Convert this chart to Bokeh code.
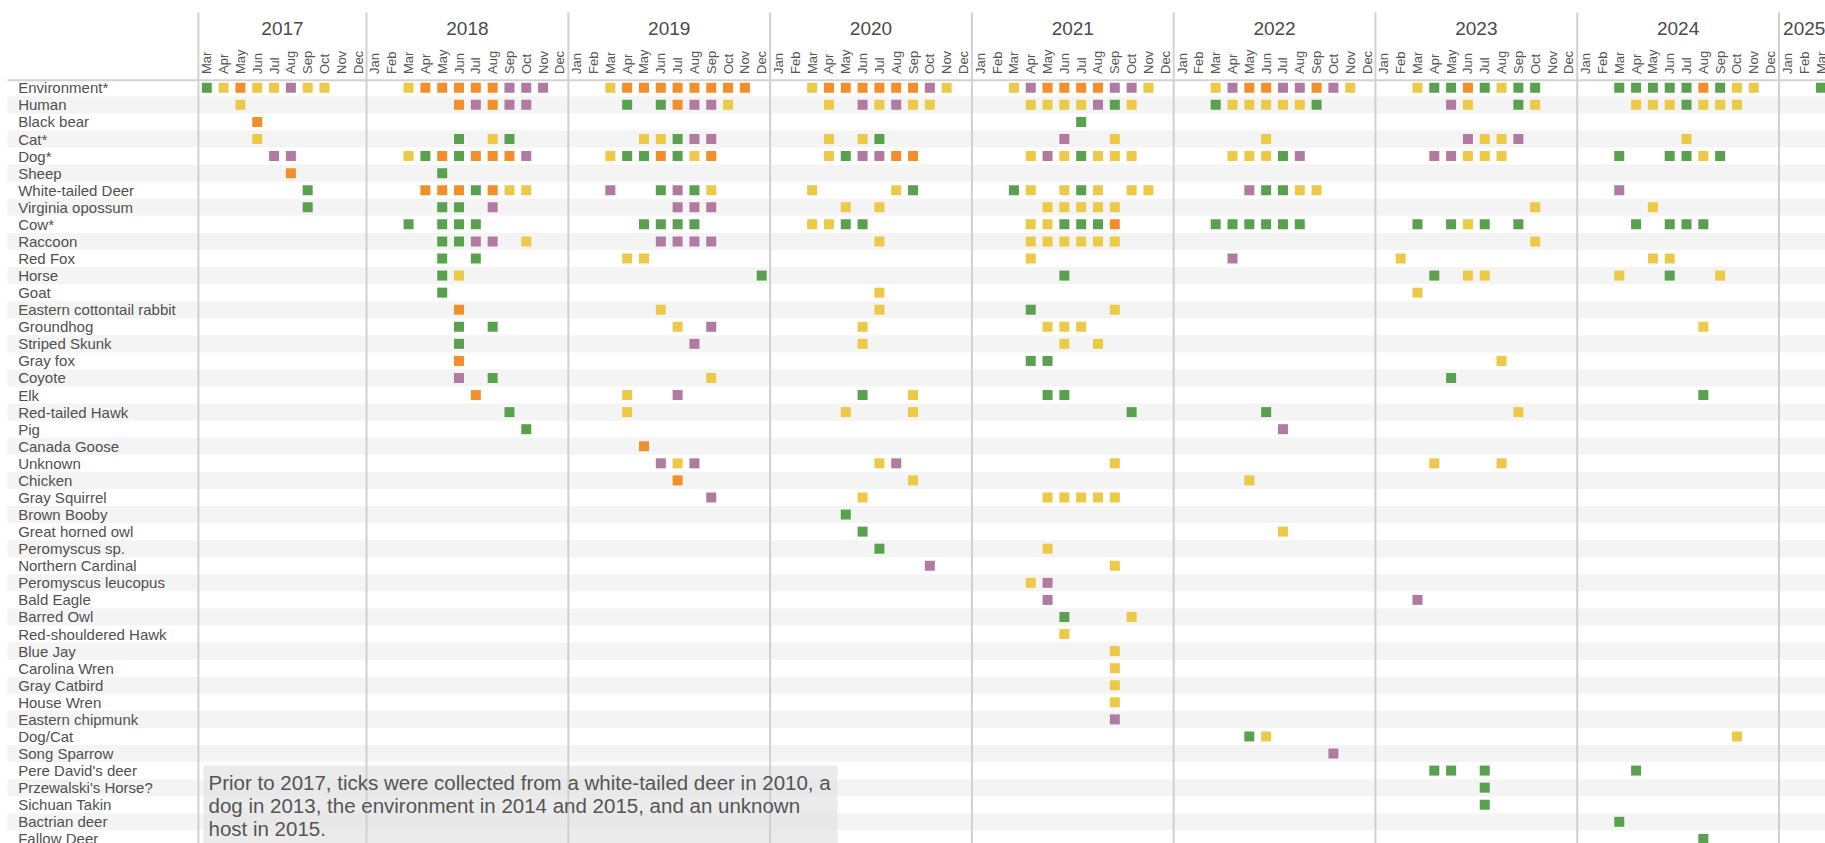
import math
from bokeh.plotting import figure
from bokeh.models import Range1d
from bokeh.embed import file_html
from bokeh.resources import INLINE
from bokeh.core.properties import value

# ---------------- data ----------------
hosts = [
    "Environment*", "Human", "Black bear", "Cat*", "Dog*", "Sheep",
    "White-tailed Deer", "Virginia opossum", "Cow*", "Raccoon", "Red Fox",
    "Horse", "Goat", "Eastern cottontail rabbit", "Groundhog", "Striped Skunk",
    "Gray fox", "Coyote", "Elk", "Red-tailed Hawk", "Pig", "Canada Goose",
    "Unknown", "Chicken", "Gray Squirrel", "Brown Booby", "Great horned owl",
    "Peromyscus sp.", "Northern Cardinal", "Peromyscus leucopus", "Bald Eagle",
    "Barred Owl", "Red-shouldered Hawk", "Blue Jay", "Carolina Wren",
    "Gray Catbird", "House Wren", "Eastern chipmunk", "Dog/Cat", "Song Sparrow",
    "Pere David's deer", "Przewalski's Horse?", "Sichuan Takin",
    "Bactrian deer", "Fallow Deer",
]

years = [2017, 2018, 2019, 2020, 2021, 2022, 2023, 2024, 2025]
month_names = ["Jan", "Feb", "Mar", "Apr", "May", "Jun",
               "Jul", "Aug", "Sep", "Oct", "Nov", "Dec"]
first_year, first_month = 2017, 3
last_year, last_month = 2025, 3

# observation codes: YYMM + colour class (G, Y, O, P)
obs_environment = ("1703G 1704Y 1705O 1706Y 1707Y 1708P 1709Y 1710Y "
                   "1803Y 1804O 1805O 1806O 1807O 1808O 1809P 1810P 1811P "
                   "1903Y 1904O 1905O 1906O 1907O 1908O 1909O 1910O 1911O "
                   "2003Y 2004O 2005O 2006O 2007O 2008O 2009O 2010P 2011Y "
                   "2103Y 2104P 2105O 2106O 2107O 2108O 2109P 2110P 2111Y "
                   "2203Y 2204P 2205O 2206O 2207P 2208P 2209O 2210P 2211Y "
                   "2303Y 2304G 2305G 2306O 2307G 2308Y 2309G 2310G "
                   "2403G 2404G 2405G 2406G 2407G 2408O 2409G 2410Y 2411Y 2503G")
obs_human = ("1705Y 1806O 1807P 1808O 1809P 1810P "
             "1904G 1906G 1907O 1908P 1909P 1910Y "
             "2004Y 2006P 2007Y 2008P 2009Y 2010Y "
             "2104Y 2105Y 2106Y 2107Y 2108P 2109G 2110Y "
             "2203G 2204Y 2205Y 2206Y 2207Y 2208Y 2209G "
             "2305P 2306Y 2309G 2310Y "
             "2404Y 2405Y 2406Y 2407G 2408Y 2409Y 2410Y")
obs_black_bear = "1706O 2107G"
obs_cat = ("1706Y 1806G 1808Y 1809G 1905Y 1906Y 1907G 1908P 1909P "
           "2004Y 2006Y 2007G 2106P 2109Y 2206Y 2306P 2307Y 2308Y 2309P 2407Y")
obs_dog = ("1707P 1708P 1803Y 1804G 1805O 1806G 1807O 1808O 1809O 1810P "
           "1903Y 1904G 1905G 1906O 1907G 1908Y 1909O "
           "2004Y 2005G 2006P 2007P 2008O 2009O "
           "2104Y 2105P 2106Y 2107G 2108Y 2109Y 2110Y "
           "2204Y 2205Y 2206Y 2207G 2208P "
           "2304P 2305P 2306Y 2307Y 2308Y "
           "2403G 2406G 2407G 2408Y 2409G")
obs_sheep = "1708O 1805G"
obs_white_tailed_deer = ("1709G 1804O 1805O 1806O 1807G 1808O 1809Y 1810Y "
                         "1903P 1906G 1907P 1908G 1909Y 2003Y 2008Y 2009G "
                         "2103G 2104Y 2106Y 2107G 2108Y 2110Y 2111Y "
                         "2205P 2206G 2207G 2208Y 2209Y 2403P")
obs_virginia_opossum = ("1709G 1805G 1806G 1808P 1907P 1908P 1909P 2005Y 2007Y "
                        "2105Y 2106Y 2107Y 2108Y 2109Y 2310Y 2405Y")
obs_cow = ("1803G 1805G 1806G 1807G 1905G 1906G 1907G 1908G "
           "2003Y 2004Y 2005G 2006G 2104Y 2105Y 2106G 2107G 2108G 2109O "
           "2203G 2204G 2205G 2206G 2207G 2208G 2303G 2305G 2306Y 2307G 2309G "
           "2404G 2406G 2407G 2408G")
obs_raccoon = ("1805G 1806G 1807P 1808P 1810Y 1906P 1907P 1908P 1909P 2007Y "
               "2104Y 2105Y 2106Y 2107Y 2108Y 2109Y 2310Y")
obs_red_fox = "1805G 1807G 1904Y 1905Y 2104Y 2204P 2302Y 2405Y 2406Y"
obs_horse = "1805G 1806Y 1912G 2106G 2304G 2306Y 2307Y 2403Y 2406G 2409Y"
obs_goat = "1805G 2007Y 2303Y"
obs_cottontail = "1806O 1906Y 2007Y 2104G 2109Y"
obs_groundhog = "1806G 1808G 1907Y 1909P 2006Y 2105Y 2106Y 2107Y 2408Y"
obs_striped_skunk = "1806G 1908P 2006Y 2106Y 2108Y"
obs_gray_fox = "1806O 2104G 2105G 2308Y"
obs_coyote = "1806P 1808G 1909Y 2305G"
obs_elk = "1807O 1904Y 1907P 2006G 2009Y 2105G 2106G 2408G"
obs_red_tailed_hawk = "1809G 1904Y 2005Y 2009Y 2110G 2206G 2309Y"
obs_pig = "1810G 2207P"
obs_canada_goose = "1905O"
obs_unknown = "1906P 1907Y 1908P 2007Y 2008P 2109Y 2304Y 2308Y"
obs_chicken = "1907O 2009Y 2205Y"
obs_gray_squirrel = "1909P 2006Y 2105Y 2106Y 2107Y 2108Y 2109Y"
obs_brown_booby = "2005G"
obs_great_horned_owl = "2006G 2207Y"
obs_peromyscus_sp = "2007G 2105Y"
obs_northern_cardinal = "2010P 2109Y"
obs_peromyscus_leucopus = "2104Y 2105P"
obs_bald_eagle = "2105P 2303P"
obs_barred_owl = "2106G 2110Y"
obs_red_shouldered_hawk = "2106Y"
obs_blue_jay = "2109Y"
obs_carolina_wren = "2109Y"
obs_gray_catbird = "2109Y"
obs_house_wren = "2109Y"
obs_eastern_chipmunk = "2109P"
obs_dog_cat = "2205G 2206Y 2410Y"
obs_song_sparrow = "2210P"
obs_pere_davids_deer = "2304G 2305G 2307G 2404G"
obs_przewalski = "2307G"
obs_sichuan_takin = "2307G"
obs_bactrian_deer = "2403G"
obs_fallow_deer = "2408G"

host_obs = [
    obs_environment, obs_human, obs_black_bear, obs_cat, obs_dog, obs_sheep,
    obs_white_tailed_deer, obs_virginia_opossum, obs_cow, obs_raccoon,
    obs_red_fox, obs_horse, obs_goat, obs_cottontail, obs_groundhog,
    obs_striped_skunk, obs_gray_fox, obs_coyote, obs_elk, obs_red_tailed_hawk,
    obs_pig, obs_canada_goose, obs_unknown, obs_chicken, obs_gray_squirrel,
    obs_brown_booby, obs_great_horned_owl, obs_peromyscus_sp,
    obs_northern_cardinal, obs_peromyscus_leucopus, obs_bald_eagle,
    obs_barred_owl, obs_red_shouldered_hawk, obs_blue_jay, obs_carolina_wren,
    obs_gray_catbird, obs_house_wren, obs_eastern_chipmunk, obs_dog_cat,
    obs_song_sparrow, obs_pere_davids_deer, obs_przewalski, obs_sichuan_takin,
    obs_bactrian_deer, obs_fallow_deer,
]

class_colors = {"G": "#59a14f", "Y": "#edc948", "O": "#f28e2b", "P": "#b07aa1"}

note_lines = [
    "Prior to 2017, ticks were collected from a white-tailed deer in 2010, a",
    "dog in 2013, the environment in 2014 and 2015, and an unknown",
    "host in 2015.",
]

# ---------------- layout ----------------
W, H = 1825, 843
PX_MONTH = 16.815          # pixels per month
PX_ROW = 17.07             # pixels per host row
X0 = 206.3                 # canvas px of first month centre
Y0 = 87.3                  # canvas px of first row centre


def px2x(px):
    return (px - X0) / PX_MONTH


def py2y(py):
    return (py - Y0) / PX_ROW


def month_index(y, m):
    return (y - first_year) * 12 + (m - first_month)


n_months = month_index(last_year, last_month) + 1
n_rows = len(hosts)

p = figure(width=W, height=H, output_backend="svg", toolbar_location=None,
           x_range=Range1d(px2x(0), px2x(W)),
           y_range=Range1d(py2y(H), py2y(0)),
           x_axis_location=None, y_axis_location=None,
           min_border=0, min_border_left=0, min_border_right=0,
           min_border_top=0, min_border_bottom=0,
           outline_line_color=None, background_fill_color="white",
           border_fill_color="white")
p.grid.visible = False

FONT = value("Liberation Sans")

# row bands
band_rows = [r for r in range(n_rows + 2) if r % 2 == 1]
p.quad(left=px2x(7), right=px2x(W + 5),
       top=[r - 0.5 for r in band_rows], bottom=[r + 0.5 for r in band_rows],
       fill_color="#f4f4f4", line_color=None)

# note box
p.quad(left=[px2x(203)], right=[px2x(837)], top=[py2y(765)], bottom=[py2y(H + 20)],
       fill_color="#e2e2e2", fill_alpha=0.7, line_color=None)

# year separators
sep_x = [-0.5] + [month_index(y, 1) - 0.5 for y in years[1:]]
p.segment(x0=sep_x, x1=sep_x, y0=[py2y(12)] * len(sep_x), y1=[py2y(H + 5)] * len(sep_x),
          line_color="#d0d0d0", line_width=2)

# header line
p.segment(x0=[px2x(7)], x1=[px2x(W + 5)], y0=[py2y(79.8)], y1=[py2y(79.8)],
          line_color="#d3d3d3", line_width=2)

# year labels
yl_x, yl_t = [], []
for y in years:
    a = max(month_index(y, 1), 0)
    b = min(month_index(y, 12), n_months - 1)
    yl_x.append((a + b) / 2)
    yl_t.append(str(y))
p.text(x=yl_x, y=[py2y(27.7)] * len(yl_x), text=yl_t, text_font=FONT,
       text_font_size="19px", text_color="#4a4a4a", text_align="center",
       text_baseline="middle")

# month labels
ml_x = list(range(n_months))
ml_t = [month_names[(first_month - 1 + m) % 12] for m in ml_x]
p.text(x=ml_x, y=[py2y(73.5)] * n_months, text=ml_t, text_font=FONT,
       text_font_size="13px", text_color="#555555", text_align="left",
       text_baseline="middle", angle=math.pi / 2)

# host labels
p.text(x=[px2x(17.7)] * n_rows, y=list(range(n_rows)), text=hosts, text_font=FONT,
       text_font_size="15px", text_color="#505050", text_align="left",
       text_baseline="middle")

# observation squares
sx, sy, sc = [], [], []
for r, codes in enumerate(host_obs):
    for tok in codes.split():
        yr = 2000 + int(tok[:2])
        mo = int(tok[2:4])
        sx.append(month_index(yr, mo))
        sy.append(r)
        sc.append(class_colors[tok[4]])
p.scatter(x=sx, y=sy, marker="square", size=10, fill_color=sc, line_color=None)

# note text
p.text(x=[px2x(208)] * 3, y=[py2y(782), py2y(805), py2y(828)], text=note_lines,
       text_font=FONT, text_font_size="20.5px", text_color="#555555",
       text_align="left", text_baseline="alphabetic")

open("out.html", "w").write(file_html(p, INLINE))
